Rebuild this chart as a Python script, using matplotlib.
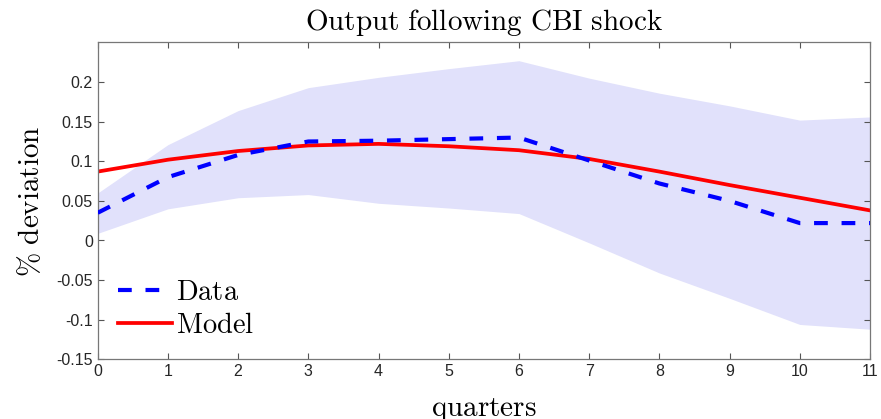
import matplotlib
matplotlib.use("Agg")
import matplotlib.pyplot as plt
import numpy as np

quarters = [0, 1, 2, 3, 4, 5, 6, 7, 8, 9, 10, 11]
data_irf = [0.035, 0.080, 0.108, 0.125, 0.126, 0.128, 0.130, 0.101, 0.072, 0.050, 0.022, 0.022]
model_irf = [0.087, 0.102, 0.113, 0.120, 0.122, 0.119, 0.114, 0.103, 0.087, 0.070, 0.054, 0.038]
band_upper = [0.060, 0.121, 0.164, 0.193, 0.206, 0.217, 0.227, 0.205, 0.186, 0.170, 0.152, 0.156]
band_lower = [0.009, 0.040, 0.054, 0.058, 0.047, 0.041, 0.034, -0.003, -0.041, -0.073, -0.106, -0.112]
yticks = [-0.15, -0.1, -0.05, 0, 0.05, 0.1, 0.15, 0.2]
ytick_labels = ["-0.15", "-0.1", "-0.05", "0", "0.05", "0.1", "0.15", "0.2"]

plt.rcParams['mathtext.fontset'] = 'cm'
plt.rcParams['font.family'] = ['Liberation Sans', 'DejaVu Sans']

fig = plt.figure(figsize=(8.81, 4.19), dpi=100)
ax = fig.add_axes([97.7/881, 1 - 359.3/419, (870 - 97.7)/881, (359.3 - 42.5)/419])

ax.fill_between(quarters, band_lower, band_upper, color='#e1e1fb', linewidth=0, zorder=1)
ax.plot(quarters, data_irf, color='#0000ff', linestyle=(0, (3.3, 3.3)), linewidth=3.0, label=r'$\mathrm{Data}$', zorder=3)
ax.plot(quarters, model_irf, color='#ff0000', linewidth=2.7, label=r'$\mathrm{Model}$', zorder=2)

ax.set_xlim(0, 11)
ax.set_ylim(-0.15, 0.25)
ax.set_xticks(quarters)
ax.set_yticks(yticks)
ax.set_yticklabels(ytick_labels)
ax.tick_params(direction='in', top=True, right=True, labelsize=11.5, length=4, width=0.8,
               colors='#555555', labelcolor='#262626')
for s in ax.spines.values():
    s.set_color('#777777')
    s.set_linewidth(0.9)

ax.set_title(r'$\mathrm{Output\ following\ CBI\ shock}$', fontsize=21, pad=9)
ax.set_xlabel(r'$\mathrm{quarters}$', fontsize=21, labelpad=12)
ax.set_ylabel(r'$\%\ \mathrm{deviation}$', fontsize=21, labelpad=8)

leg = ax.legend(loc='lower left', bbox_to_anchor=(0.0, 0.0), frameon=False, fontsize=20.5,
                handlelength=1.9, handletextpad=0.15, labelspacing=0.25, borderaxespad=0.3)

fig.savefig('out.png', dpi=100)
